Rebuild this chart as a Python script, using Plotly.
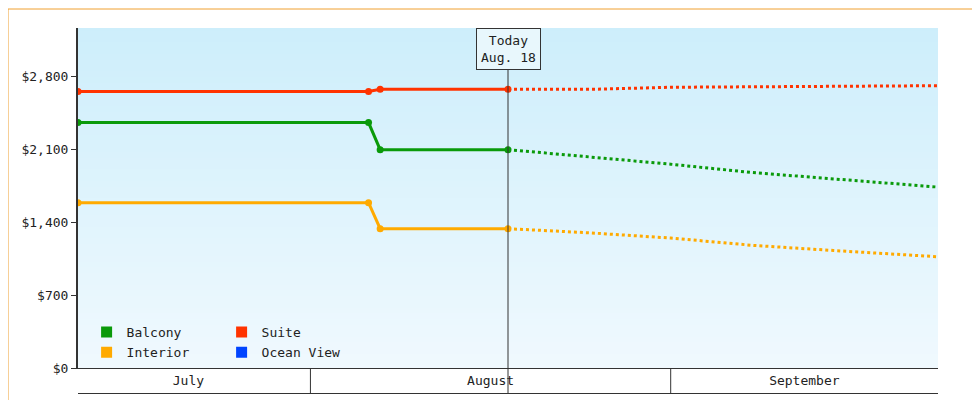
import numpy as np
import plotly.graph_objects as go

# observed prices
hist_dates = ["2024-07-12", "2024-08-06", "2024-08-07", "2024-08-18"]
balcony_hist = [2360, 2360, 2100, 2100]
suite_hist = [2660, 2660, 2680, 2680]
interior_hist = [1590, 1590, 1340, 1340]

# forecast
fc_dates = ["2024-08-18", "2024-08-25", "2024-09-01", "2024-09-08", "2024-09-15", "2024-09-24"]
balcony_fc = [2100, 2030, 1960, 1880, 1820, 1740]
suite_fc = [2680, 2680, 2700, 2705, 2710, 2715]
interior_fc = [1340, 1300, 1250, 1180, 1130, 1070]

month_labels = ["July", "August", "September"]
month_mids = ["2024-07-21 12:00", "2024-08-16 12:00", "2024-09-12 12:00"]
month_starts = ["2024-08-01", "2024-09-01"]
y_ticks = [0, 700, 1400, 2100, 2800]

x_start, x_end = "2024-07-12", "2024-09-24"
y_max = 3270
colors = {"Balcony": "#0a9a0a", "Suite": "#ff3300", "Interior": "#ffaa00", "Ocean View": "#0044ff"}

fig = go.Figure()

# gradient background
ys = np.linspace(0, y_max, 60)
fig.add_trace(go.Heatmap(x=[x_start, x_end], y=ys, z=[[v, v] for v in ys],
                         colorscale=[[0, "#f0f9fe"], [1, "#cdeefb"]], showscale=False,
                         hoverinfo="skip"))

for name, h, f in [("Balcony", balcony_hist, balcony_fc), ("Suite", suite_hist, suite_fc),
                   ("Interior", interior_hist, interior_fc)]:
    c = colors[name]
    fig.add_trace(go.Scatter(x=fc_dates, y=f, mode="lines", showlegend=False,
                             line=dict(color=c, width=3, dash="dot")))
    fig.add_trace(go.Scatter(x=hist_dates, y=h, mode="lines+markers", line=dict(color=c, width=3),
                             marker=dict(size=7, color=c), showlegend=False))

for name, leg in [("Balcony", "legend"), ("Suite", "legend"), ("Interior", "legend2"), ("Ocean View", "legend2")]:
    fig.add_trace(go.Scatter(x=[None], y=[None], mode="markers", name=name, legend=leg,
                             marker=dict(symbol="square", size=11, color=colors[name])))

shapes = [
    dict(type="line", xref="x", yref="paper", x0="2024-08-18", x1="2024-08-18", y0=-0.075, y1=1.0,
         line=dict(color="#333", width=1)),
    dict(type="line", xref="paper", yref="paper", x0=0, x1=1, y0=-0.075, y1=-0.075, line=dict(color="#333", width=1)),
    dict(type="rect", xref="paper", yref="paper", x0=-70 / 860, x1=1 + 49 / 860, y0=-39 / 340, y1=1 + 19 / 340,
         line=dict(color="#f0a030", width=1)),
]
for d in month_starts:
    shapes.append(dict(type="line", xref="x", yref="paper", x0=d, x1=d, y0=-0.075, y1=0,
                       line=dict(color="#333", width=1)))

leg_style = dict(orientation="h", x=0.01, xanchor="left", yanchor="top", bgcolor="rgba(0,0,0,0)",
                 entrywidth=90, itemwidth=30, tracegroupgap=0, font=dict(size=13))

fig.update_layout(
    width=980, height=400, margin=dict(l=70, r=50, t=20, b=40, autoexpand=False),
    paper_bgcolor="white", plot_bgcolor="white",
    font=dict(family="DejaVu Sans Mono", size=13, color="#222"),
    shapes=shapes,
    xaxis=dict(range=[x_start, x_end], tickvals=month_mids, ticktext=month_labels, ticks="",
               showgrid=False, showline=True, linecolor="#333", zeroline=False, automargin=False),
    yaxis=dict(range=[0, y_max], tickvals=y_ticks, ticktext=["$" + f"{v:,}" for v in y_ticks],
               ticks="outside", ticklen=5, tickcolor="#333", showgrid=False, showline=True,
               linecolor="#333", linewidth=2, zeroline=False, automargin=False),
    legend=dict(y=0.15, **leg_style),
    legend2=dict(y=0.09, **leg_style),
    annotations=[dict(x="2024-08-18", y=1.0, xref="x", yref="paper", yanchor="top", showarrow=False,
                      text="Today<br>Aug. 18", bordercolor="#333", borderwidth=1, bgcolor="#e8f7fc",
                      borderpad=4, font=dict(size=13))],
)

fig.write_html("out.html")
